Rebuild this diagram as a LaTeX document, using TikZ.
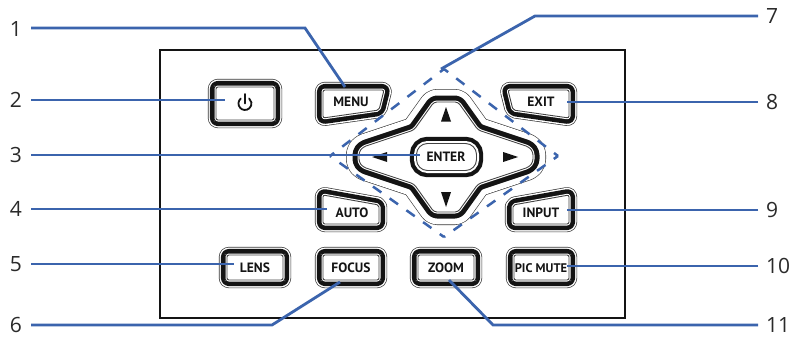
\documentclass[tikz,border=0pt]{standalone}
\usepackage{fontspec}
\setmainfont{PT Sans}
\newfontfamily\numfont{Open Sans}
\usetikzlibrary{calc}
\definecolor{leadblue}{HTML}{3B64AD}
\definecolor{keydark}{HTML}{141414}
\definecolor{numgrey}{HTML}{2A2A2A}
\tikzset{
  x=1pt,y=-1pt,
  panel/.style={draw=keydark,line width=1.4pt},
  lead/.style={draw=leadblue,line width=2.8pt,line join=miter},
  dashside/.style={draw=leadblue,line width=2.5pt,dash pattern=on 10.25pt off 10.25pt,dash phase=5.1pt},
  num/.style={font=\numfont\fontsize{21}{21}\selectfont,text=numgrey,inner sep=0pt},
  numleft/.style={num,minimum width=30pt,anchor=center},
  numright/.style={num,anchor=west,inner xsep=8pt},
  keytext/.style={font=\fontsize{13.5}{13.5}\selectfont\bfseries,text=keydark,inner sep=0pt},
  tri/.style={fill=keydark,draw=none},
  ring/.style={line join=round,rounded corners=#1},
  ring/.default=2pt,
}
\newcommand\keycap[1]{%
  \draw[ring,draw=keydark!85,line width=16.4pt] #1;
  \draw[ring,draw=white,line width=15pt] #1;
  \draw[ring,draw=keydark,line width=12.2pt] #1;
  \draw[ring,draw=white,line width=3pt] #1;
  \draw[ring,draw=keydark!80,fill=white,line width=.9pt] #1;
}
\newcommand\bevel[2]{%
  \foreach \px/\py in {#2}{\draw[draw=keydark!70,line width=.7pt] (\px,\py) -- ($(\px,\py)!-2.6pt!(#1)$);}%
}
\begin{document}
\begin{tikzpicture}
\useasboundingbox (0,0) rectangle (795,337);
\fill[white] (0,0) rectangle (795,337);
\draw[panel] (160,50) rectangle (625,318);

% power
\keycap{(216,87)--(274,87)--(274,120)--(216,120)--cycle}
\coordinate (kpower) at (245,103.5);
\bevel{kpower}{216/87,274/87,274/120,216/120}
\draw[draw=keydark,line width=1.8pt,line cap=round] (245,94) -- (245,103.5);
\draw[draw=keydark,line width=1.8pt,line cap=round] (240.8,98.5) arc[start angle=130,end angle=410,radius=6.5pt];

% menu, exit, auto, input
\keycap{(323,90)--(384,90)--(379,110)--(323,118)--cycle}
\keycap{(569,90)--(508,90)--(513,110)--(569,118)--cycle}
\keycap{(323,195)--(379,205)--(379,224)--(323,224)--cycle}
\keycap{(569,195)--(513,205)--(513,224)--(569,224)--cycle}

% bottom row
\keycap{(227,255)--(283,255)--(283,280)--(227,280)--cycle}
\keycap{(323,255)--(379,255)--(379,280)--(323,280)--cycle}
\keycap{(418,255)--(474,255)--(474,280)--(418,280)--cycle}
\keycap{(514,255)--(569,255)--(569,280)--(514,280)--cycle}
\coordinate (klens) at (255,267.5);
\coordinate (kfocus) at (351,267.5);
\coordinate (kzoom) at (446,267.5);
\coordinate (kpic) at (541,267.5);
\bevel{klens}{227/255,283/255,283/280,227/280}
\bevel{kfocus}{323/255,379/255,379/280,323/280}
\bevel{kzoom}{418/255,474/255,474/280,418/280}
\bevel{kpic}{514/255,569/255,569/280,514/280}

% direction pad
\def\padpath{(434,102)--(458,102)--(478,130)--(529,147)--(533,152)--(533,162)--(529,167)--(478,184)--(458,212)--(434,212)--(414,184)--(363,167)--(359,162)--(359,152)--(363,147)--(414,130)--cycle}
\draw[ring=3pt,draw=keydark!85,line width=26pt] \padpath;
\draw[ring=3pt,draw=white,line width=24.8pt] \padpath;
\draw[ring=3pt,draw=keydark,line width=13pt] \padpath;
\draw[ring=3pt,draw=white,line width=3pt] \padpath;
\draw[ring=3pt,draw=keydark!80,fill=white,line width=.9pt] \padpath;
\fill[tri] (446,107) -- (451,121.5) -- (441,121.5) -- cycle;
\fill[tri] (446,207) -- (451,192) -- (441,192) -- cycle;
\fill[tri] (372,157) -- (387,152) -- (387,162) -- cycle;
\fill[tri] (518,157) -- (503,152) -- (503,162) -- cycle;

% enter
\def\enterpath{(416.5,143.5) rectangle (476.5,170.5)}
\draw[rounded corners=11pt,draw=keydark,line width=13.4pt] \enterpath;
\draw[rounded corners=11pt,draw=white,line width=5pt] \enterpath;
\draw[rounded corners=11pt,draw=keydark!80,fill=white,line width=.9pt] \enterpath;

% key labels
\node[keytext] (menu) at (351,102) {MENU};
\node[keytext] (exit) at (541,102) {EXIT};
\node[keytext] (auto) at (352,213) {AUTO};
\node[keytext] (input) at (541,213) {INPUT};
\node[keytext] (lens) at (255,268) {LENS};
\node[keytext] (focus) at (351,268) {FOCUS};
\node[keytext] (zoom) at (446,268) {ZOOM};
\node[keytext,font=\fontsize{12.5}{12.5}\selectfont\bfseries] (picmute) at (541,268) {PIC MUTE};
\node[keytext] (enter) at (446,157) {ENTER};

% dashed diamond
\coordinate (dt) at (444,69);
\coordinate (dr) at (558,156);
\coordinate (db) at (444,237);
\coordinate (dl) at (330,156);
\draw[dashside] (dt) -- (dr);
\draw[dashside] (dr) -- (db);
\draw[dashside] (db) -- (dl);
\draw[dashside] (dl) -- (dt);

% numbers
\node[numleft] (n1) at (16,29) {1};
\node[numleft] (n2) at (16,100) {2};
\node[numleft] (n3) at (16,155) {3};
\node[numleft] (n4) at (16,209) {4};
\node[numleft] (n5) at (16,264) {5};
\node[numleft] (n6) at (16,325) {6};
\node[numright] (n7) at (758,16) {7};
\node[numright] (n8) at (758,102) {8};
\node[numright] (n9) at (758,210) {9};
\node[numright] (n10) at (758,266) {10};
\node[numright] (n11) at (758,325) {11};

% connector ends
\coordinate (e1) at (345,87);
\coordinate (e2) at (225,100);
\coordinate (e3) at (420,155);
\coordinate (e4) at (327,209);
\coordinate (e5) at (234,264);
\coordinate (e6) at (340,282);
\coordinate (e7) at (441,69);
\coordinate (e8) at (567,102);
\coordinate (e9) at (567,210);
\coordinate (e10) at (567,266);
\coordinate (e11) at (449,280);

\draw[lead] (n1.east |- 0,28) -- (305,28) -- (e1);
\draw[lead] (n2.east) -- (e2);
\draw[lead] (n3.east) -- (e3);
\draw[lead] (n4.east) -- (e4);
\draw[lead] (n5.east) -- (e5);
\draw[lead] (n6.east) -- (272,325) -- (e6);
\draw[lead] (n7.west) -- (535,16) -- (e7);
\draw[lead] (n8.west) -- (e8);
\draw[lead] (n9.west) -- (e9);
\draw[lead] (n10.west) -- (e10);
\draw[lead] (n11.west) -- (493,325) -- (e11);
\end{tikzpicture}
\end{document}
